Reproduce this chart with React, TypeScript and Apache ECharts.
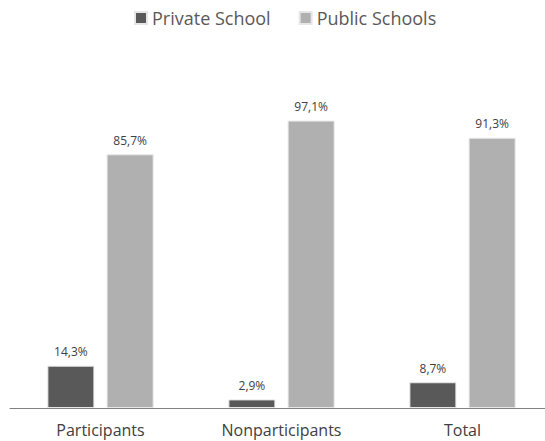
import React, { useEffect, useRef } from "react";
import * as echarts from "echarts";

const categories = ["Participants", "Nonparticipants", "Total"];
const privateValues = [14.3, 2.9, 8.7];
const publicValues = [85.7, 97.1, 91.3];
const seriesNames = ["Private School", "Public Schools"];

const fmt = (v: number) => v.toFixed(1).replace(".", ",") + "%";

export default function App() {
  const ref = useRef<HTMLDivElement>(null);
  useEffect(() => {
    const chart = echarts.init(ref.current!, undefined, { renderer: "svg" });
    const font = "'Open Sans', 'Noto Sans', sans-serif";
    const label = {
      show: true,
      position: "top" as const,
      distance: 8,
      color: "#404040",
      fontSize: 12,
      fontFamily: font,
      formatter: (p: any) => fmt(p.value),
    };
    chart.setOption({
      animation: false,
      backgroundColor: "#ffffff",
      legend: {
        top: 4,
        left: 129,
        itemWidth: 12,
        itemHeight: 12,
        itemGap: 28,
        icon: "rect",
        textStyle: { color: "#595959", fontSize: 18, fontFamily: font },
        data: seriesNames,
      },
      grid: { left: 10, top: 112, bottom: 33, right: 7, containLabel: false },
      xAxis: {
        type: "category",
        data: categories,
        axisLine: { lineStyle: { color: "#808080", width: 1 } },
        axisTick: { show: false },
        axisLabel: { color: "#404040", fontSize: 16, fontFamily: font, margin: 14 },
      },
      yAxis: {
        type: "value",
        min: 0,
        max: 100,
        show: false,
        splitLine: { show: false },
      },
      series: [
        {
          name: seriesNames[0],
          type: "bar",
          data: privateValues,
          barWidth: 47,
          barGap: "26%",
          itemStyle: { color: "#595959", borderColor: "#e6e6e6", borderWidth: 1 },
          label,
        },
        {
          name: seriesNames[1],
          type: "bar",
          data: publicValues,
          barWidth: 47,
          itemStyle: { color: "#b0b0b0", borderColor: "#e6e6e6", borderWidth: 1 },
          label,
        },
      ],
    });
    return () => chart.dispose();
  }, []);
  return (
    <div style={{ position: "absolute", left: 0, top: 0, width: 545, height: 441, overflow: "hidden" }}>
      <div ref={ref} style={{ width: 560, height: 441 }} />
    </div>
  );
}
